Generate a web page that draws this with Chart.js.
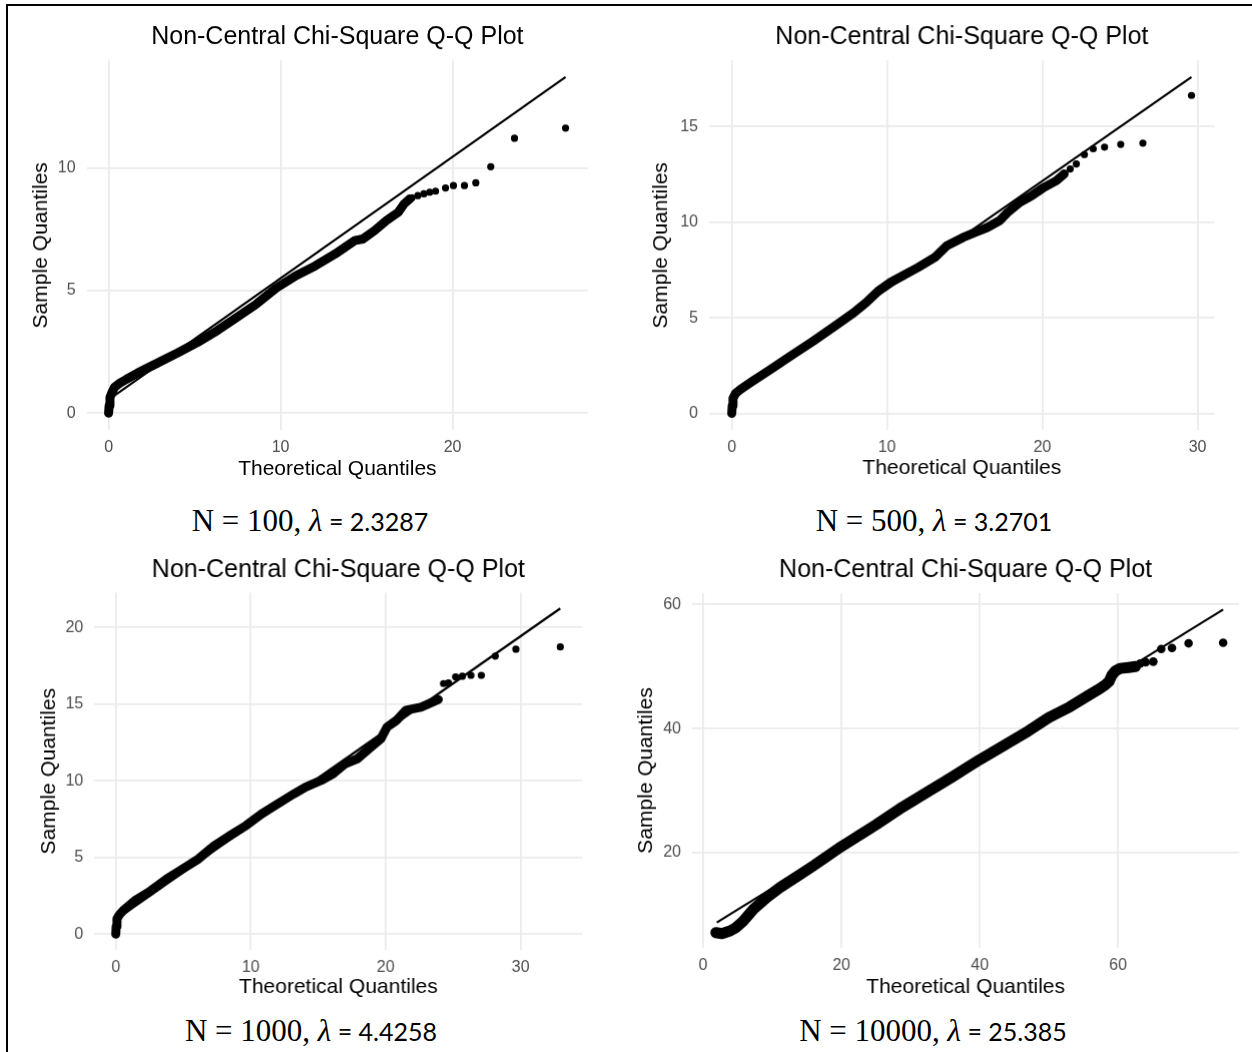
<!DOCTYPE html>
<html>

<head>
  <meta charset="utf-8">
  <title>Non-Central Chi-Square Q-Q Plots</title>

  <script src="https://cdn.jsdelivr.net/npm/chart.js"></script>

  <style>
    html, body { margin: 0; padding: 0; background: #fff; overflow: hidden; }
    body { width: 1252px; height: 1052px; position: relative; }
    .frame-top { position: absolute; left: 6px; top: 4px; width: 1246px; height: 2px; background: #000; }
    .frame-left { position: absolute; left: 6px; top: 4px; width: 2px; height: 1048px; background: #000; }
    .box { position: absolute; }
    .caption { position: absolute; width: 500px; height: 36px; line-height: 36px; text-align: center; white-space: nowrap; color: #000;
      font-family: "Liberation Serif", "DejaVu Serif", serif; font-size: 31px; }
    .caption .lam { font-style: italic; }
    .caption .num { font-family: Lato, "Open Sans", sans-serif; font-size: 25px; }
  </style>
</head>

<body>
  <div class="frame-top"></div>
  <div class="frame-left"></div>

  <script>
    // N = 100
    const x100 = [0, 0.03, 0.08, 0.2, 0.34, 0.6, 1.03, 1.72, 2.86, 4.0, 5.15, 6.3, 7.45, 8.6, 9.74, 10.88, 12.0, 13.17, 14.3, 14.78, 15.46, 16.15, 16.84, 17.18, 17.5];
    const y100 = [0, 0.3, 0.65, 0.85, 1.05, 1.2, 1.38, 1.65, 2.05, 2.45, 2.88, 3.36, 3.9, 4.45, 5.1, 5.6, 6.0, 6.49, 7.03, 7.1, 7.44, 7.85, 8.19, 8.53, 8.73];
    const tailX100 = [17.64, 17.98, 18.33, 18.67, 19.01, 19.59, 20.05, 20.69, 21.35, 22.22, 23.6, 26.57];
    const tailY100 = [8.78, 8.87, 8.94, 9.01, 9.05, 9.18, 9.28, 9.28, 9.39, 10.05, 11.21, 11.62];
    const refX100 = [0, 26.57];
    const refY100 = [0.55, 13.7];
    const xTicks100 = [0, 10, 20];
    const yTicks100 = [0, 5, 10];

    // N = 500
    const x500 = [0, 0.03, 0.08, 0.25, 0.57, 1.35, 2.66, 3.96, 5.26, 6.56, 7.86, 8.65, 9.43, 10.2, 11.0, 12.0, 13.07, 13.85, 14.9, 15.68, 16.46, 17.24, 17.76, 18.54, 19.32, 20.1, 20.9, 21.41];
    const y500 = [0, 0.4, 0.8, 1.05, 1.26, 1.69, 2.39, 3.09, 3.79, 4.52, 5.27, 5.79, 6.4, 6.84, 7.19, 7.63, 8.15, 8.76, 9.2, 9.46, 9.72, 10.07, 10.5, 11.03, 11.38, 11.81, 12.16, 12.52];
    const tailX500 = [21.8, 22.19, 22.71, 23.28, 24.01, 25.05, 26.48, 29.61];
    const tailY500 = [12.78, 13.04, 13.53, 13.83, 13.92, 14.06, 14.13, 16.62];
    const refX500 = [0, 29.61];
    const refY500 = [0.84, 17.58];
    const xTicks500 = [0, 10, 20, 30];
    const yTicks500 = [0, 5, 10, 15];

    // N = 1000
    const x1000 = [0, 0.03, 0.09, 0.25, 0.53, 1.41, 2.59, 3.76, 4.94, 6.12, 7.3, 8.47, 9.65, 10.8, 12.0, 13.2, 14.06, 15.2, 16.1, 17.0, 17.9, 18.76, 19.65, 20.1, 20.8, 21.5, 22.6, 23.2, 23.9];
    const y1000 = [0, 0.5, 1.0, 1.25, 1.52, 2.18, 2.83, 3.59, 4.25, 4.9, 5.77, 6.43, 7.08, 7.84, 8.5, 9.15, 9.59, 10.02, 10.46, 11.11, 11.44, 12.09, 12.75, 13.5, 13.94, 14.6, 14.8, 15.03, 15.3];
    const tailX1000 = [24.29, 24.65, 25.18, 25.68, 26.32, 27.09, 28.12, 29.65, 32.94];
    const tailY1000 = [16.34, 16.38, 16.78, 16.82, 16.88, 16.88, 18.13, 18.58, 18.73];
    const refX1000 = [0, 32.94];
    const refY1000 = [0.95, 21.24];
    const xTicks1000 = [0, 10, 20, 30];
    const yTicks1000 = [0, 5, 10, 15, 20];

    // N = 10000
    const x10000 = [1.84, 2.71, 3.91, 4.63, 5.83, 7.28, 9.22, 11.14, 13.5, 15.96, 20, 25, 28.9, 32, 36, 40, 44, 47, 50, 53, 55.2, 57, 58.1, 58.7, 59.1, 59.6, 60.3, 61.5, 62.5];
    const y10000 = [7.12, 6.96, 7.4, 7.84, 9.01, 10.9, 12.78, 14.39, 16.1, 17.9, 21.0, 24.5, 27.4, 29.5, 32.2, 35.0, 37.6, 39.6, 41.8, 43.5, 45.0, 46.2, 47.0, 47.6, 48.6, 49.3, 49.7, 49.85, 50.0];
    const tailX10000 = [63.2, 64.0, 65.1, 66.25, 67.8, 70.2, 75.2];
    const tailY10000 = [50.5, 50.7, 50.8, 52.83, 53.0, 53.75, 53.85];
    const refX10000 = [1.98, 75.2];
    const refY10000 = [8.76, 59.2];
    const xTicks10000 = [0, 20, 40, 60];
    const yTicks10000 = [20, 40, 60];

    const sampleSizes = ['100', '500', '1000', '10000'];
    const lambdas = ['2.3287', '3.2701', '4.4258', '25.385'];

    Chart.defaults.font.family = '"Liberation Sans", Arial, sans-serif';

    // 패널 배치 (plot area in page pixels)
    const panels = [
      { x: x100, y: y100, tx: tailX100, ty: tailY100, rx: refX100, ry: refY100, xt: xTicks100, yt: yTicks100,
        xMin: -1.279, xMax: 27.88, yMin: -0.695, yMax: 14.38,
        area: [87, 60, 588.5, 429], yTitleX: 42, titleY: 36.7, xTitleY: 468, capX: 310, capTop: 503, dot: 3.6, band: 9 },
      { x: x500, y: y500, tx: tailX500, ty: tailY500, rx: refX500, ry: refY500, xt: xTicks500, yt: yTicks500,
        xMin: -1.458, xMax: 31.1, yMin: -0.875, yMax: 18.45,
        area: [709.4, 60, 1214, 429], yTitleX: 662, titleY: 36.7, xTitleY: 467, capX: 934, capTop: 503, dot: 3.6, band: 9 },
      { x: x1000, y: y1000, tx: tailX1000, ty: tailY1000, rx: refX1000, ry: refY1000, xt: xTicks1000, yt: yTicks1000,
        xMin: -1.589, xMax: 34.58, yMin: -1.026, yMax: 22.27,
        area: [94.6, 592.5, 581.8, 949], yTitleX: 50, titleY: 570, xTitleY: 986, capX: 311, capTop: 1013, dot: 3.6, band: 9 },
      { x: x10000, y: y10000, tx: tailX10000, ty: tailY10000, rx: refX10000, ry: refY10000, xt: xTicks10000, yt: yTicks10000,
        xMin: -1.592, xMax: 77.51, yMin: 4.653, yMax: 61.84,
        area: [692, 593, 1238.6, 947], yTitleX: 646.6, titleY: 570, xTitleY: 986, capX: 933, capTop: 1013, dot: 4.3, band: 11 }
    ];

    const zip = (xs, ys) => xs.map((v, i) => ({ x: v, y: ys[i] }));

    panels.forEach((p, i) => {
      const [L, T, R, B] = p.area;
      const x0 = p.yTitleX - 12.6 - 2;
      const yW = L - x0;
      const y0 = p.titleY - 15 - 4;
      const yb = p.xTitleY + 12.6 + 2;
      const xH = yb - B;
      const padR = 5;

      const box = document.createElement('div');
      box.className = 'box';
      box.style.left = x0 + 'px';
      box.style.top = y0 + 'px';
      box.style.width = (R + padR - x0) + 'px';
      box.style.height = (yb - y0) + 'px';
      const canvas = document.createElement('canvas');
      box.appendChild(canvas);
      document.body.appendChild(box);

      new Chart(canvas.getContext('2d'), {
        type: 'scatter',
        data: {
          datasets: [
            {
              data: zip(p.x, p.y),
              showLine: true,
              borderColor: '#000',
              borderWidth: p.band,
              borderCapStyle: 'round',
              borderJoinStyle: 'round',
              pointRadius: 0
            },
            {
              data: zip(p.tx, p.ty),
              backgroundColor: '#000',
              borderWidth: 0,
              pointRadius: p.dot
            },
            {
              data: zip(p.rx, p.ry),
              showLine: true,
              borderColor: '#000',
              borderWidth: 2.2,
              pointRadius: 0
            }
          ]
        },
        options: {
          responsive: true,
          maintainAspectRatio: false,
          animation: false,
          layout: { padding: { left: 0, right: padR, top: 0, bottom: 0 } },
          plugins: {
            legend: { display: false },
            tooltip: { enabled: false },
            title: {
              display: true,
              fullSize: false,
              text: 'Non-Central Chi-Square Q-Q Plot',
              color: '#000',
              font: { size: 25, weight: 'normal' },
              padding: { top: 4, bottom: T - y0 - 4 - 30 }
            }
          },
          scales: {
            x: {
              type: 'linear',
              min: p.xMin,
              max: p.xMax,
              afterBuildTicks: s => { s.ticks = p.xt.map(v => ({ value: v })); },
              afterFit: s => { s.height = xH; },
              grid: { color: '#ebebeb', lineWidth: 1.8, drawTicks: false },
              border: { display: false },
              ticks: { color: '#4d4d4d', font: { size: 16 }, padding: 8 },
              title: { display: true, text: 'Theoretical Quantiles', color: '#000', font: { size: 21 }, padding: { top: 0, bottom: 2 } }
            },
            y: {
              type: 'linear',
              min: p.yMin,
              max: p.yMax,
              afterBuildTicks: s => { s.ticks = p.yt.map(v => ({ value: v })); },
              afterFit: s => { s.width = yW; },
              grid: { color: '#ebebeb', lineWidth: 1.8, drawTicks: false },
              border: { display: false },
              ticks: { color: '#4d4d4d', font: { size: 16 }, padding: 11 },
              title: { display: true, text: 'Sample Quantiles', color: '#000', font: { size: 21 }, padding: { top: 2, bottom: 0 } }
            }
          }
        }
      });

      // 캡션
      const cap = document.createElement('div');
      cap.className = 'caption';
      cap.style.left = (p.capX - 250) + 'px';
      cap.style.top = p.capTop + 'px';
      cap.innerHTML = 'N = ' + sampleSizes[i] + ', <span class="lam">λ</span><span class="num"> = ' + lambdas[i] + '</span>';
      document.body.appendChild(cap);
    });
  </script>
</body>

</html>
